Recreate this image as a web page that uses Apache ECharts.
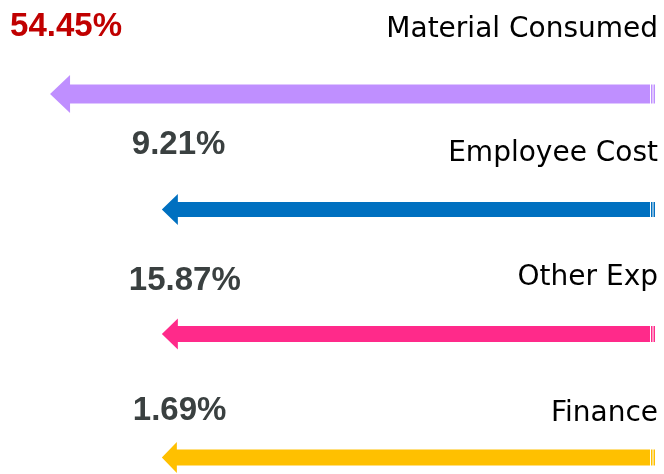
<!DOCTYPE html>
<html>
<head>
<meta charset="utf-8">
<script src="https://cdn.jsdelivr.net/npm/echarts@6/dist/echarts.min.js"></script>
<style>html,body{margin:0;padding:0;background:#fff;}#chart{width:664px;height:474px;}</style>
</head>
<body>
<div id="chart"></div>
<script>
// ---- data ----
const categories = ['Material Consumed', 'Employee Cost', 'Other Exp', 'Finance'];
const shares = [54.45, 9.21, 15.87, 1.69];
const arrowLength = [92.3, 75.1, 75.1, 75.1];

// ---- style / layout ----
const arrowColors = ['#BF8FFF', '#0070C0', '#FF2A8A', '#FFC000'];
const shareColors = ['#C00000', '#3A4040', '#3A4040', '#3A4040'];
const rows = [
  { cy: 94,    shaft: 19, head: 38, headLen: 20, pctDx: -40, pctDy: -67,   nameDy: -64.5 },
  { cy: 209.5, shaft: 15, head: 31, headLen: 16, pctDx: -30, pctDy: -65,   nameDy: -56 },
  { cy: 334,   shaft: 16, head: 31, headLen: 16, pctDx: -33, pctDy: -53,   nameDy: -56.5 },
  { cy: 461,   shaft: 16, head: 31, headLen: 15, pctDx: -29, pctDy: -47,   nameDy: -44 }
];

const grids = [], xAxes = [], yAxes = [], series = [];
categories.forEach(function (cat, i) {
  const r = rows[i];
  grids.push({ left: 0, right: 14, top: r.cy - 20, height: 40 });
  xAxes.push({ type: 'value', gridIndex: i, min: 0, max: 100, inverse: true, show: false });
  yAxes.push({ type: 'category', gridIndex: i, data: [cat], show: false });
  series.push({
    type: 'custom',
    xAxisIndex: i,
    yAxisIndex: i,
    clip: false,
    data: [[arrowLength[i], 0]],
    renderItem: function (params, api) {
      const tail = api.coord([0, 0]);
      const tip = api.coord([api.value(0), 0]);
      const cy = tail[1];
      const tx = tip[0], bx = tail[0];
      const hx = tx + r.headLen;
      const pts = [
        [tx, cy],
        [hx, cy - r.head / 2],
        [hx, cy - r.shaft / 2],
        [bx, cy - r.shaft / 2],
        [bx, cy + r.shaft / 2],
        [hx, cy + r.shaft / 2],
        [hx, cy + r.head / 2]
      ];
      const col = arrowColors[i];
      return {
        type: 'group',
        children: [
          { type: 'polygon', shape: { points: pts }, style: { fill: col } },
          { type: 'rect', shape: { x: bx + 1, y: cy - r.shaft / 2, width: 1.5, height: r.shaft }, style: { fill: col } },
          { type: 'rect', shape: { x: bx + 3.5, y: cy - r.shaft / 2, width: 1.5, height: r.shaft }, style: { fill: col } },
          { type: 'text', style: {
              text: shares[i].toFixed(2) + '%', x: tx + r.pctDx, y: cy + r.pctDy,
              align: 'left', verticalAlign: 'middle',
              font: 'bold 33px "Liberation Sans", Arial, sans-serif', fill: shareColors[i] } },
          { type: 'text', style: {
              text: cat, x: 658, y: cy + r.nameDy,
              align: 'right', verticalAlign: 'middle',
              font: '28px "DejaVu Sans", sans-serif', fill: '#000' } }
        ]
      };
    }
  });
});

const chart = echarts.init(document.getElementById('chart'), null, { renderer: 'canvas' });
chart.setOption({
  animation: false,
  backgroundColor: '#fff',
  grid: grids,
  xAxis: xAxes,
  yAxis: yAxes,
  series: series
});
</script>
</body>
</html>
